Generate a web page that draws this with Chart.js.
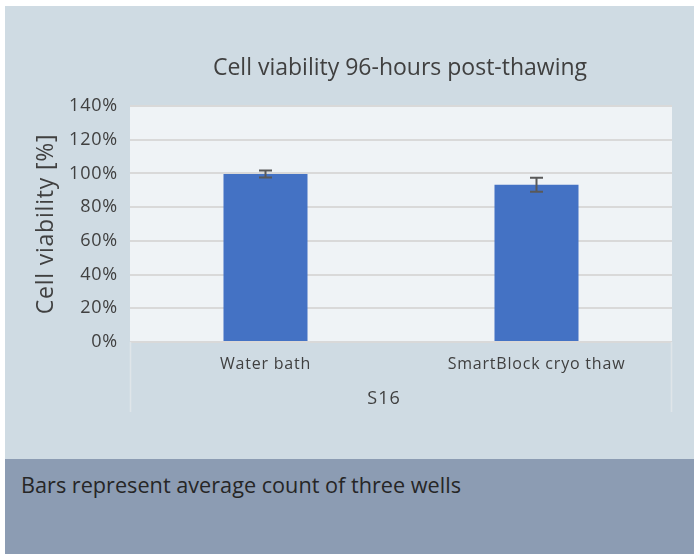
<!DOCTYPE html>
<html>
<head>
<meta charset="utf-8">
<script src="https://cdn.jsdelivr.net/npm/chart.js@4"></script>
<style>
  html, body { margin: 0; padding: 0; background: #ffffff; }
  #wrap { position: absolute; left: 5px; top: 6px; width: 689px; height: 453px; background: #cfdbe3; }
  #band { position: absolute; left: 5px; top: 459px; width: 689px; height: 95px; background: #8c9cb3; overflow: hidden; }
  #note { position: absolute; left: 16px; top: 10px; font-family: "Open Sans", sans-serif; font-size: 22px; line-height: 30px; color: #262626; white-space: nowrap; transform-origin: 0 0; }
</style>
</head>
<body>
<div id="wrap"><canvas id="c" width="689" height="453"></canvas></div>
<div id="band"><div id="note">Bars represent average count of three wells</div></div>
<script>
const categories = ["Water bath", "SmartBlock cryo thaw"];
const viability = [99.7, 93.3];
const errorAmount = [2.1, 4.2];
const groupLabel = "S16";
const chartTitle = "Cell viability 96-hours post-thawing";
const yAxisTitle = "Cell viability [%]";

const FONT = '"Open Sans", sans-serif';
const TEXT = '#404040';

// fit the note text to the reference width (condensed look)
(function () {
  const n = document.getElementById('note');
  const w = n.getBoundingClientRect().width;
  n.style.transform = 'scaleX(' + (440 / w).toFixed(4) + ')';
})();

const bgPlugin = {
  id: 'bg',
  beforeDraw(chart) {
    const { ctx, chartArea: a } = chart;
    ctx.letterSpacing = '0.8px';
    ctx.save();
    ctx.fillStyle = '#eff3f6';
    ctx.fillRect(a.left, a.top, a.right - a.left, a.bottom - a.top);
    ctx.restore();
  },
  afterDraw(chart) {
    const { ctx, chartArea: a } = chart;
    const xs = chart.scales.x;
    ctx.save();
    // category axis boundary lines
    ctx.strokeStyle = '#dfe5e9';
    ctx.lineWidth = 1.5;
    ctx.beginPath();
    ctx.moveTo(a.left + 0.5, a.bottom); ctx.lineTo(a.left + 0.5, a.bottom + 70);
    ctx.moveTo(a.right - 0.5, a.bottom); ctx.lineTo(a.right - 0.5, a.bottom + 70);
    ctx.stroke();
    ctx.fillStyle = TEXT;
    ctx.textAlign = 'center';
    ctx.textBaseline = 'middle';
    // category labels
    ctx.letterSpacing = '0.8px';
    ctx.font = '16px ' + FONT;
    categories.forEach((c, i) => {
      ctx.fillText(c, xs.getPixelForValue(i), a.bottom + 22);
    });
    // title
    ctx.letterSpacing = '0px';
    ctx.font = '23px ' + FONT;
    ctx.fillText(chartTitle, (a.left + a.right) / 2 - 1, 62);
    // group label
    ctx.letterSpacing = '1px';
    ctx.font = '18px ' + FONT;
    ctx.fillText(groupLabel, (a.left + a.right) / 2 - 17, a.bottom + 57);
    ctx.restore();
  }
};

const errPlugin = {
  id: 'err',
  afterDatasetsDraw(chart) {
    const { ctx } = chart;
    const meta = chart.getDatasetMeta(0);
    const y = chart.scales.y;
    ctx.save();
    ctx.strokeStyle = '#595959';
    ctx.lineWidth = 2;
    meta.data.forEach((bar, i) => {
      const x = bar.x;
      const yt = y.getPixelForValue(viability[i] + errorAmount[i]);
      const yb = y.getPixelForValue(viability[i] - errorAmount[i]);
      ctx.beginPath();
      ctx.moveTo(x, yt); ctx.lineTo(x, yb);
      ctx.moveTo(x - 6.5, yt); ctx.lineTo(x + 6.5, yt);
      ctx.moveTo(x - 6.5, yb); ctx.lineTo(x + 6.5, yb);
      ctx.stroke();
    });
    ctx.restore();
  }
};

new Chart(document.getElementById('c'), {
  type: 'bar',
  data: {
    labels: categories,
    datasets: [{
      data: viability,
      backgroundColor: '#4472c4',
      borderWidth: 0,
      categoryPercentage: 1,
      barPercentage: 0.31
    }]
  },
  options: {
    responsive: false,
    animation: false,
    layout: { padding: { left: 28, right: 22, top: 100, bottom: 0 } },
    plugins: { legend: { display: false }, tooltip: { enabled: false } },
    scales: {
      x: {
        grid: { display: false, drawTicks: false },
        border: { display: false },
        ticks: { display: false },
        afterFit(s) { s.height = 117; }
      },
      y: {
        min: 0, max: 140,
        grid: { color: '#d9d9d9', lineWidth: 2, drawTicks: false },
        border: { display: false },
        ticks: {
          stepSize: 20, color: TEXT, font: { family: FONT, size: 18 }, padding: 12,
          callback: v => v + '%'
        },
        title: { display: true, text: yAxisTitle, color: TEXT, font: { family: FONT, size: 23 }, padding: 0 },
        afterFit(s) { s.width = 97; }
      }
    }
  },
  plugins: [bgPlugin, errPlugin]
});
</script>
</body>
</html>
